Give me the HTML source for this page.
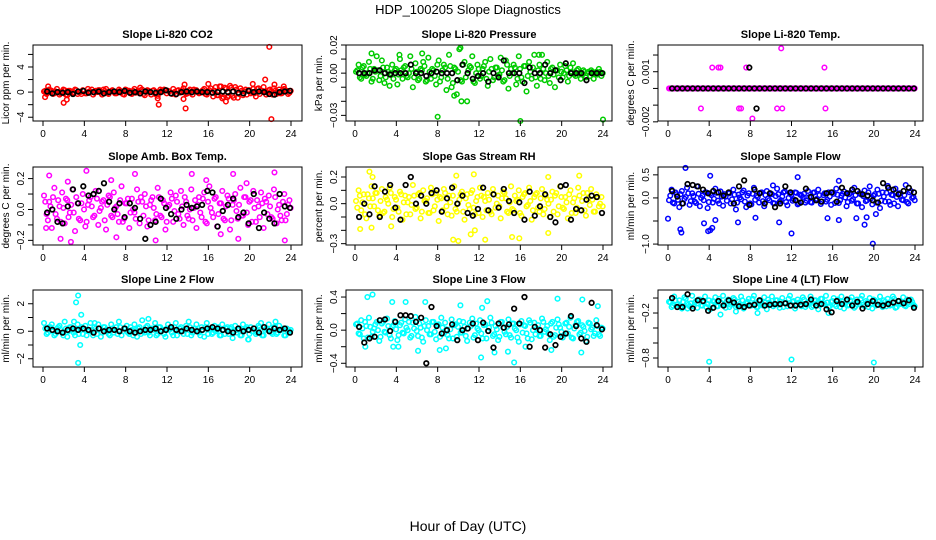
<!DOCTYPE html>
<html><head><meta charset="utf-8"><title>HDP_100205 Slope Diagnostics</title>
<style>
html,body{margin:0;padding:0;background:#fff;}
svg{display:block;font-family:"Liberation Sans",Arial,sans-serif;}
</style></head>
<body>
<svg id="chart" width="936" height="540" viewBox="0 0 936 540" xmlns="http://www.w3.org/2000/svg">
<rect width="936" height="540" fill="#fff"/>
<text x="468" y="14" text-anchor="middle" font-size="13">HDP_100205  Slope Diagnostics</text>
<text x="468" y="531" text-anchor="middle" font-size="14">Hour of Day (UTC)</text>
</svg>
<script>
const hourTicks=[0,4,8,12,16,20,24];

const co2Vals=[0.1,-0.3,0.4,0.2,-0.2,0.5,-0.4,0.1,0.3,-0.5,0.2,-0.1,0.4,-0.3,0.0,0.3,-0.2,0.5,0.1,-0.4,0.2,0.3,-0.1,0.4,0.5,-0.3,0.2,0.1,-0.2,0.4,0.0,-0.4,0.3,0.2,-0.3,0.5,0.1,-0.2,0.4,-0.5,0.3,0.0,0.2,-0.3,-0.6,0.4,0.1,0.3,0.2,-0.2,0.5,-0.4,0.3,0.1,0.6,-0.3,0.2,-0.1,0.4,0.3,-0.2,0.1,0.5,-0.4,0.3,0.0,0.2,-0.5,0.9,-1.0,0.7,-0.8,1.0,-0.6,0.8,-0.9,0.6,-0.5,0.4,0.3,-0.2,0.5,-0.7,0.6,0.2,0.8,-0.4,0.3,0.1,0.6,-0.3,0.4,-0.2,0.5,0.2,-0.1];
const co2Core=[0.2,-0.1,0.3,-0.3,0.1,0.0,-0.2,0.4,-0.4,0.2,0.1,-0.1,0.3,0.0,-0.3,0.2,-0.2,0.1,0.4,-0.1,0.0,0.3,-0.4,0.2,-0.1,0.1,0.3,-0.2,0.0,0.2,-0.3,0.4,0.1,-0.2,0.2,-0.1,0.0,0.3,-0.3,0.1,0.2,-0.4,0.3,0.0,-0.1,0.2,0.4,-0.2,0.1,-0.3,0.0,0.2,-0.1,0.3,0.1,-0.2,0.4,-0.4,0.2,0.0,-0.1,0.3,-0.3,0.1,0.6,-0.7,0.8,-0.5,0.9,-0.8,0.5,-0.6,0.7,-0.9,0.4,-0.3,0.2,0.1,-0.4,0.3,0.0,-0.2,0.5,-0.3,0.2,0.1,-0.1,0.4,-0.4,0.2,0.0,-0.2,0.3,0.1,-0.3,0.2];
const co2ExtraHours=[0.5,2,2.3,0.2,11.2,11.1,13.7,13.6,13.8,16,17.7,20.3,21.5,21.9,22.1,22.4,23.3,9.4];
const co2ExtraVals=[0.9,-1.7,-1.2,-0.8,-2.0,-1.0,1.2,-1.1,-2.6,1.3,-1.5,1.3,2.0,7.2,-4.3,1.2,0.9,0.7];
const co2Black=[0.1,-0.2,0.0,-0.1,0.0,-0.3,0.1,0.2,-0.1,0.0,0.1,-0.2,0.0,0.1,0.0,0.2,-0.1,0.0,-0.2,0.1,0.0,-0.1,0.0,0.3,-0.2,-0.3,0.0,0.1,0.0,0.1,0.0,0.0,-0.1,0.0,0.1,0.0,0.1,-0.1,-0.2,0.2,0.0,0.1,0.0,-0.3,-0.4,0.0,0.1,0.2];

const pressVals=[0.001,0.006,-0.004,0.005,-0.002,0.008,-0.006,0.003,0.012,-0.005,0.009,-0.007,0.004,-0.009,0.006,0.002,-0.008,0.010,-0.004,0.005,-0.003,0.012,-0.010,0.007,-0.005,0.003,0.008,-0.006,0.011,-0.004,0.002,-0.008,0.009,-0.003,0.006,-0.012,0.013,-0.010,0.004,-0.015,0.017,-0.006,0.008,-0.020,0.005,0.012,-0.007,0.006,-0.004,0.003,0.008,-0.009,0.010,-0.005,0.004,-0.002,0.011,-0.006,0.009,-0.011,0.003,0.006,-0.008,0.012,-0.003,0.005,-0.013,0.008,-0.004,0.013,-0.009,0.006,0.013,-0.005,0.008,-0.007,0.004,-0.010,0.002,0.006,-0.003,0.005,-0.006,0.004,0.007,-0.002,0.003,-0.004,0.002,-0.003,0.001,0.002,-0.004,0.001,0.003,-0.002];
const pressCore=[0.002,-0.003,0.004,-0.001,0.000,0.003,-0.004,0.001,0.002,-0.002,0.004,-0.003,0.001,0.000,-0.004,0.003,-0.001,0.002,0.004,-0.002,0.000,0.003,-0.003,0.001,-0.004,0.002,0.005,-0.005,0.001,0.003,-0.002,0.006,-0.006,0.002,0.004,-0.004,0.005,-0.007,0.003,0.001,-0.005,0.006,-0.003,0.002,0.004,-0.006,0.000,0.003,-0.002,0.005,-0.004,0.001,0.003,-0.003,0.004,-0.001,0.002,-0.005,0.006,-0.002,0.000,0.004,-0.004,0.003,-0.006,0.005,-0.002,0.001,0.004,-0.003,0.002,-0.004,0.003,0.000,-0.002,0.003,-0.001,0.002,-0.003,0.001,0.000,0.002,-0.002,0.001,-0.001,0.002,0.000,-0.001,0.001,0.000,-0.002,0.001,0.000,-0.001,0.001,0.000];
const pressExtraHours=[8,16,24,10.2,6.5,1.6,4.3,17.8,9.6,10.3];
const pressExtraVals=[-0.031,-0.034,-0.033,0.018,0.014,0.014,0.013,0.013,-0.016,-0.020];
const pressBlack=[0,0,0,0.002,0.002,0,-0.001,0,0,0,0.006,0,0,-0.002,0,0.001,0,0,0,-0.005,0.006,0,-0.004,-0.002,0,-0.006,0,-0.003,0.009,0,0,0,-0.007,0.004,0,0,0.006,0,0.002,-0.005,0.007,0,0,0,-0.005,0,0,0];

const tempVals=[0,0,0,0,0,0,0,0,0,0,0,0,0,0,0,0,0,0,0,0,0,0,0,0,0,0,0,0,0,0,0,0,0,0,0,0,0,0,0,0,0,0,0,0,0,0,0,0,0,0,0,0,0,0,0,0,0,0,0,0,0,0,0,0,0,0,0,0,0,0,0,0,0,0,0,0,0,0,0,0,0,0,0,0,0,0,0,0,0,0,0,0,0,0,0,0];
const tempCore=[0,0,0,0,0,0,0,0,0,0,0,0,0,0,0,0,0,0,0,0,0,0,0,0,0,0,0,0,0,0,0,0,0,0,0,0,0,0,0,0,0,0,0,0,0,0,0,0,0,0,0,0,0,0,0,0,0,0,0,0,0,0,0,0,0,0,0,0,0,0,0,0,0,0,0,0,0,0,0,0,0,0,0,0,0,0,0,0,0,0,0,0,0,0,0,0];
const tempExtraHours=[4.3,4.9,5.1,7.6,15.2,11,3.2,6.9,7.1,10.6,11.1,15.3,8.2];
const tempExtraVals=[0.00125,0.00125,0.00125,0.00125,0.00125,0.0024,-0.0012,-0.0012,-0.0012,-0.0012,-0.0012,-0.0012,-0.0018];
const tempBlack=[0,0,0,0,0,0,0,0,0,0,0,0,0,0,0,0,0,0,0,0,0,0,0,0,0,0,0,0,0,0,0,0,0,0,0,0,0,0,0,0,0,0,0,0,0,0,0,0];
const tempBlackExtraHours=[7.9,8.6];
const tempBlackExtraVals=[0.00125,-0.0012];

const ambVals=[0.09,-0.03,0.05,-0.12,0.14,-0.06,0.02,0.11,-0.09,0.06,-0.02,0.13,-0.14,0.04,-0.07,0.10,-0.11,0.03,0.08,-0.05,0.12,-0.10,0.01,0.06,-0.13,0.09,-0.04,0.11,0.02,-0.08,0.15,-0.06,0.04,-0.12,0.07,-0.02,0.13,-0.09,0.05,0.10,-0.11,0.03,0.08,-0.07,0.14,-0.04,0.06,-0.13,0.02,0.11,-0.08,0.09,-0.03,0.12,-0.10,0.05,-0.06,0.13,0.01,-0.12,0.08,-0.05,0.11,-0.09,0.15,-0.02,0.07,-0.11,0.04,0.12,-0.07,0.09,-0.13,0.03,0.10,-0.06,0.14,-0.04,0.08,-0.10,0.06,0.12,-0.08,0.02,0.11,-0.12,0.05,0.09,-0.05,0.13,-0.09,0.03,-0.07,0.10,-0.03,0.06];
const ambCore=[0.05,-0.07,0.02,0.08,-0.03,0.06,-0.08,0.01,0.07,-0.05,0.03,-0.02,0.08,-0.06,0.04,0.00,-0.08,0.06,0.02,-0.04,0.07,-0.01,0.05,-0.07,0.03,0.08,-0.05,0.01,-0.03,0.06,-0.08,0.04,0.07,-0.02,0.00,-0.06,0.05,0.08,-0.04,0.02,-0.07,0.06,0.01,-0.03,0.08,-0.05,0.04,-0.08,0.03,0.07,-0.01,0.05,-0.06,0.02,0.08,-0.04,0.00,-0.07,0.06,0.03,-0.02,0.07,-0.08,0.05,0.01,-0.05,0.08,-0.03,0.04,-0.06,0.02,0.07,-0.07,0.06,-0.01,0.03,-0.04,0.08,-0.02,0.05,-0.08,0.01,0.06,-0.05,0.04,0.07,-0.03,0.02,-0.06,0.08,0.00,-0.04,0.05,-0.07,0.03,0.01];
const ambExtraHours=[0.6,2.4,4.2,6.6,8.9,14.4,15.8,18.4,19.7,22.4,1.7,2.7,7.1,10.9,23.4,0.3,18.9,17.2];
const ambExtraVals=[0.22,0.18,0.25,0.19,0.23,0.23,0.19,0.23,0.17,0.24,-0.19,-0.21,-0.18,-0.20,-0.20,-0.12,-0.19,-0.16];
const ambBlack=[-0.02,0.0,-0.08,-0.09,0.02,0.13,0.04,0.15,0.09,0.10,0.12,0.17,0.05,0.0,0.04,-0.05,0.04,0.01,-0.06,-0.19,-0.10,-0.08,0.07,0.01,-0.03,-0.06,0.0,0.03,0.01,0.02,0.03,0.12,0.11,-0.11,-0.01,0.03,0.07,-0.05,-0.02,-0.09,0.10,-0.12,-0.02,-0.06,-0.09,0.10,0.02,0.01];

const rhVals=[0.02,0.10,-0.05,0.07,-0.11,0.04,0.13,-0.02,0.08,-0.09,0.11,-0.06,0.03,0.12,-0.10,0.05,-0.03,0.09,-0.12,0.06,0.01,-0.08,0.14,-0.04,0.07,-0.11,0.10,0.02,-0.07,0.12,-0.05,0.08,-0.13,0.04,0.11,-0.02,0.06,-0.09,0.13,-0.06,0.03,0.09,-0.12,0.07,-0.04,0.10,-0.08,0.05,0.12,-0.10,0.02,0.08,-0.06,0.11,-0.03,0.06,-0.11,0.09,0.04,-0.07,0.13,-0.05,0.02,0.10,-0.09,0.07,-0.02,0.12,-0.12,0.05,0.08,-0.06,0.11,-0.04,0.03,-0.10,0.09,0.06,-0.08,0.13,-0.03,0.05,-0.11,0.10,0.01,-0.07,0.12,-0.05,0.08,-0.09,0.04,0.11,-0.06,0.07,-0.02,0.05];
const rhCore=[-0.03,0.06,0.01,-0.08,0.07,-0.02,0.04,0.08,-0.05,0.02,-0.07,0.05,0.00,0.08,-0.04,0.03,-0.06,0.07,0.01,-0.08,0.05,-0.01,0.06,-0.03,0.08,-0.06,0.02,0.04,-0.07,0.07,-0.02,0.03,0.05,-0.05,0.08,-0.08,0.01,0.06,-0.04,0.00,0.07,-0.06,0.04,-0.01,0.08,-0.03,0.02,-0.07,0.06,0.05,-0.05,0.03,-0.08,0.07,0.00,-0.02,0.04,0.08,-0.06,0.01,-0.04,0.06,0.03,-0.07,0.05,0.08,-0.01,0.02,-0.05,0.07,-0.03,0.04,-0.08,0.06,0.00,0.03,-0.06,0.08,-0.02,0.05,-0.04,0.01,0.07,-0.07,0.04,-0.03,0.06,0.02,-0.05,0.08,-0.01,0.03,-0.06,0.05,0.00,-0.02];
const rhExtraHours=[1.4,1.7,9.8,11.5,21.7,18.7,0.5,1.6,9.5,10,11.2,12.6,15.2,15.9,18.7,3.5,11.6];
const rhExtraVals=[0.24,0.20,0.21,0.22,0.21,0.20,-0.19,-0.18,-0.27,-0.28,-0.23,-0.27,-0.25,-0.26,-0.22,-0.17,-0.20];
const rhBlack=[-0.10,0.00,-0.08,0.13,-0.10,0.09,0.14,-0.03,-0.12,0.14,0.20,0.00,0.06,0.00,0.08,0.10,-0.06,0.04,0.12,0.00,0.06,-0.07,-0.09,-0.04,0.12,-0.05,0.07,-0.03,0.11,0.02,-0.07,0.01,-0.12,0.09,-0.09,-0.02,0.07,-0.10,-0.14,0.13,0.14,-0.12,-0.04,-0.05,0.03,0.06,0.05,-0.07];

const sampleVals=[-0.05,0.18,-0.12,0.08,-0.20,0.15,-0.02,0.22,-0.15,0.10,-0.08,0.25,-0.18,0.05,0.12,-0.22,0.09,-0.10,0.20,-0.06,0.14,-0.17,0.03,0.11,-0.12,0.18,-0.25,0.07,-0.03,0.16,-0.20,0.10,-0.14,0.22,0.05,-0.10,0.12,-0.18,0.15,-0.05,0.08,-0.12,0.20,-0.08,0.03,0.14,-0.16,0.10,-0.06,0.12,-0.14,0.07,0.02,-0.10,0.15,-0.09,0.11,-0.04,0.18,-0.13,0.06,-0.08,0.12,-0.15,0.09,0.20,-0.11,0.05,0.14,-0.18,0.08,-0.06,0.22,-0.12,0.10,-0.20,0.16,-0.05,0.25,-0.14,0.08,0.18,-0.22,0.12,-0.08,0.26,-0.15,0.06,0.20,-0.18,0.10,-0.05,0.28,-0.12,0.15,0.02];
const sampleCore=[0.05,-0.10,0.12,-0.04,0.08,-0.12,0.02,0.10,-0.07,0.04,-0.11,0.09,0.00,-0.05,0.12,-0.09,0.06,-0.02,0.11,-0.12,0.03,0.08,-0.06,0.10,-0.03,0.07,-0.10,0.01,0.12,-0.08,0.05,-0.12,0.09,-0.04,0.02,0.11,-0.07,0.06,-0.01,0.10,-0.11,0.04,0.08,-0.05,0.12,-0.09,0.00,0.07,-0.03,0.11,-0.12,0.05,0.09,-0.06,0.02,-0.10,0.12,-0.02,0.06,-0.08,0.10,-0.04,0.03,0.12,-0.11,0.07,-0.05,0.09,0.01,-0.09,0.11,-0.03,0.06,-0.12,0.08,0.04,-0.07,0.12,-0.01,0.05,-0.10,0.09,-0.06,0.03,0.11,-0.08,0.07,-0.12,0.02,0.10,-0.04,0.06,-0.09,0.12,0.00,-0.05];
const sampleExtraHours=[1.7,4.1,12.6,16.6,0,1.2,1.3,3.5,3.9,4.1,4.3,4.6,6.8,8.5,10.8,12,15.5,16.6,18.3,19.1,19.3,19.9,20.2,2.8,10.2];
const sampleExtraVals=[0.65,0.48,0.45,0.37,-0.45,-0.68,-0.75,-0.55,-0.72,-0.70,-0.65,-0.48,-0.53,-0.43,-0.53,-0.77,-0.44,-0.48,-0.44,-0.58,-0.42,-0.99,-0.35,0.25,0.27];
const sampleBlack=[0.15,0.03,-0.12,0.30,0.28,0.25,0.18,0.10,0.15,0.12,0.05,0.12,-0.12,0.25,0.38,-0.15,0.18,0.10,-0.12,0.10,-0.20,-0.12,0.25,0.12,-0.05,-0.10,0.20,0.02,-0.05,-0.08,0.10,0.12,-0.08,0.22,0.10,0.18,0.15,0.08,0.05,-0.05,-0.10,0.32,0.22,0.18,0.08,0.15,0.22,0.12];

const line2Vals=[0.6,-0.2,0.3,0.5,-0.3,0.2,0.4,-0.1,0.7,-0.4,0.3,0.1,-0.3,0.5,0.2,-0.2,0.4,0.0,0.6,-0.3,0.2,0.5,-0.4,0.3,0.1,-0.2,0.5,-0.1,0.3,0.7,-0.3,0.2,0.4,-0.2,0.1,0.5,-0.4,0.3,0.8,-0.1,0.4,-0.3,0.2,0.6,-0.2,0.3,0.1,-0.4,0.5,0.2,-0.3,0.6,0.0,0.3,-0.2,0.4,0.7,-0.3,0.2,0.5,-0.1,0.3,-0.4,0.6,0.2,-0.2,0.4,0.1,-0.3,0.5,-0.2,0.3,0.2,-0.5,0.4,0.1,-0.3,0.5,0.2,-0.6,0.3,0.0,-0.2,0.4,0.6,-0.3,0.2,0.5,-0.1,0.3,-0.2,0.4,0.1,-0.3,0.2,0.0];
const line2Core=[0.2,-0.1,0.3,0.0,-0.2,0.3,0.1,-0.3,0.2,0.0,0.3,-0.1,0.1,-0.2,0.3,0.2,-0.3,0.0,0.1,0.3,-0.2,0.2,-0.1,0.3,0.0,-0.3,0.2,0.1,-0.2,0.3,0.0,0.2,-0.1,0.3,-0.3,0.1,0.2,-0.2,0.0,0.3,-0.1,0.2,0.1,-0.3,0.3,0.0,-0.2,0.2,0.1,-0.1,0.3,-0.3,0.2,0.0,0.1,-0.2,0.3,-0.1,0.2,0.0,-0.3,0.1,0.3,-0.2,0.2,-0.1,0.0,0.3,-0.3,0.1,0.2,-0.2,0.3,0.0,-0.1,0.2,-0.3,0.1,0.3,-0.2,0.0,0.2,-0.1,0.3,-0.3,0.1,0.2,0.0,-0.2,0.3,-0.1,0.1,0.2,-0.3,0.0,0.1];
const line2ExtraHours=[3.4,3.2,3.7,3.6,3.4,3.0,5.0,10.2,19.9,22.5];
const line2ExtraVals=[2.6,2.1,1.2,-1.0,-2.3,0.7,0.6,0.9,-0.6,0.7];
const line2Black=[0.2,0.1,0.0,-0.1,0.1,0.2,0.1,0.2,0.1,-0.1,0.2,0.0,0.1,0.1,0.0,0.2,0.0,-0.1,0.0,0.1,0.1,0.2,0.0,0.1,0.3,0.1,0.0,0.2,0.1,0.0,0.1,0.2,0.3,0.2,0.1,0.0,-0.1,0.2,0.0,0.1,0.2,-0.1,0.3,0.0,0.2,0.1,0.2,-0.1];

const line3Vals=[0.07,-0.04,0.12,-0.10,0.05,0.15,-0.08,0.02,0.10,-0.13,0.08,-0.02,0.14,-0.06,0.04,0.11,-0.12,0.06,-0.03,0.13,0.00,-0.09,0.09,0.16,-0.07,0.03,-0.14,0.12,0.05,-0.05,0.10,-0.11,0.07,0.15,-0.04,0.01,-0.10,0.13,0.06,-0.08,0.11,-0.03,0.04,-0.13,0.09,0.14,-0.06,0.02,0.12,-0.10,0.07,-0.01,0.15,-0.07,0.05,-0.12,0.10,0.03,-0.05,0.13,-0.09,0.08,0.00,-0.14,0.11,0.06,-0.04,0.12,-0.11,0.09,0.02,-0.07,0.14,-0.02,0.05,-0.12,0.10,-0.06,0.13,0.03,-0.09,0.08,-0.04,0.15,-0.10,0.06,0.11,-0.03,0.04,-0.13,0.09,0.01,-0.07,0.12,-0.05,0.03];
const line3Core=[0.08,-0.05,0.02,0.10,-0.09,0.04,-0.02,0.07,0.00,-0.08,0.10,-0.03,0.05,-0.10,0.06,0.01,-0.06,0.09,-0.04,0.03,0.10,-0.07,0.02,-0.01,0.08,-0.09,0.05,0.00,-0.05,0.10,-0.02,0.06,-0.08,0.03,0.09,-0.06,0.01,-0.10,0.07,0.04,-0.03,0.10,-0.07,0.02,0.05,-0.09,0.08,0.00,-0.04,0.06,-0.10,0.03,0.09,-0.05,0.01,-0.08,0.10,-0.02,0.04,-0.06,0.08,0.02,-0.09,0.07,-0.03,0.05,-0.10,0.09,0.00,-0.05,0.06,-0.07,0.10,0.01,-0.04,0.08,-0.08,0.03,0.07,-0.02,-0.06,0.09,0.04,-0.09,0.02,0.10,-0.05,0.06,-0.01,-0.08,0.08,0.03,-0.04,0.05,-0.07,0.02];
const line3ExtraHours=[1.2,1.7,3.6,4.9,6.8,10.2,12.3,12.8,19.6,22,23.5,1.0,3.7,4.2,6.1,8.2,8.8,13.5,14.8,15.4,21.9,16.5,19.0,12.2];
const line3ExtraVals=[0.40,0.43,0.34,0.34,0.34,0.30,0.27,0.35,0.38,0.37,0.29,-0.20,-0.20,-0.20,-0.25,-0.24,-0.22,-0.27,-0.26,-0.39,-0.27,-0.20,-0.24,-0.33];
const line3Black=[0.04,-0.15,-0.10,-0.08,0.12,0.13,-0.01,0.10,0.18,0.18,0.17,0.10,0.15,-0.40,0.28,0.05,-0.04,0.00,0.07,-0.12,0.00,0.02,0.08,-0.12,0.09,-0.01,-0.21,0.08,0.03,0.07,0.26,0.08,0.40,-0.20,0.04,0.00,-0.21,-0.05,-0.18,-0.08,-0.04,0.17,0.05,-0.10,-0.14,0.33,0.06,0.01];

const line4Vals=[-0.05,-0.12,0.02,-0.09,-0.03,-0.14,0.01,-0.07,-0.11,0.03,-0.06,-0.13,-0.02,-0.10,0.02,-0.08,-0.15,-0.04,0.01,-0.11,-0.06,0.03,-0.13,-0.02,-0.09,0.00,-0.12,-0.05,0.02,-0.14,-0.07,-0.01,-0.10,0.03,-0.12,-0.04,-0.08,0.01,-0.15,-0.06,0.02,-0.09,-0.03,-0.13,0.00,-0.07,-0.11,0.03,-0.05,-0.14,-0.02,-0.09,0.01,-0.12,-0.06,0.02,-0.10,-0.03,-0.15,-0.01,-0.08,0.03,-0.12,-0.05,0.00,-0.11,-0.07,0.02,-0.14,-0.04,-0.09,0.01,-0.13,-0.02,-0.08,0.03,-0.11,-0.06,0.00,-0.14,-0.03,-0.09,0.02,-0.12,-0.05,-0.01,-0.10,0.02,-0.13,-0.04,-0.08,0.01,-0.11,-0.06,-0.02,-0.09];
const line4Core=[-0.06,-0.10,-0.03,-0.08,-0.12,-0.05,-0.01,-0.09,-0.07,-0.11,-0.04,-0.02,-0.10,-0.06,-0.12,-0.03,-0.08,-0.05,-0.11,-0.01,-0.07,-0.09,-0.04,-0.12,-0.06,-0.02,-0.10,-0.08,-0.03,-0.11,-0.05,-0.09,-0.01,-0.07,-0.12,-0.04,-0.10,-0.06,-0.02,-0.08,-0.11,-0.03,-0.09,-0.05,-0.12,-0.07,-0.01,-0.10,-0.04,-0.08,-0.06,-0.11,-0.02,-0.09,-0.05,-0.12,-0.03,-0.07,-0.10,-0.01,-0.08,-0.06,-0.11,-0.04,-0.09,-0.02,-0.12,-0.05,-0.07,-0.10,-0.03,-0.08,-0.11,-0.06,-0.01,-0.09,-0.04,-0.12,-0.07,-0.02,-0.10,-0.05,-0.08,-0.03,-0.11,-0.06,-0.09,-0.01,-0.12,-0.04,-0.07,-0.10,-0.02,-0.08,-0.05,-0.11];
const line4ExtraHours=[4,12,20,5.1,8.7,15.6,1.9,6.6];
const line4ExtraVals=[-0.85,-0.82,-0.86,-0.22,-0.20,-0.20,-0.14,-0.18];
const line4Black=[0.00,-0.12,-0.12,0.05,-0.14,-0.03,-0.04,-0.17,-0.13,-0.04,-0.10,-0.03,-0.06,-0.11,-0.12,-0.10,-0.09,-0.03,-0.10,-0.09,-0.08,-0.08,-0.07,-0.10,-0.10,-0.09,-0.08,-0.02,-0.10,-0.08,-0.15,-0.19,-0.04,-0.08,-0.02,-0.10,-0.05,-0.14,-0.08,-0.04,-0.09,-0.10,-0.08,-0.06,-0.04,-0.07,-0.03,-0.13];

const panels=[
 {name:'co2',title:'Slope Li-820 CO2',ylab:'Licor ppm per min.',col:0,row:0,color:'#ff0000',top:7.5,bot:-4.6,ticks:[-4,-2,0,2,4,6],labels:[[-4,'-4'],[0,'0'],[4,'4']],vals:co2Vals,core:co2Core,eh:co2ExtraHours,ev:co2ExtraVals,black:co2Black},
 {name:'pressure',title:'Slope Li-820 Pressure',ylab:'kPa per min.',col:1,row:0,color:'#00cc00',top:0.02,bot:-0.034,ticks:[-0.03,-0.02,-0.01,0,0.01,0.02],labels:[[0.02,'0.02'],[0,'0.00'],[-0.03,'-0.03']],vals:pressVals,core:pressCore,eh:pressExtraHours,ev:pressExtraVals,black:pressBlack},
 {name:'li820-temp',title:'Slope Li-820 Temp.',ylab:'degrees C per min.',col:2,row:0,color:'#ff00ff',top:0.0026,bot:-0.00195,ticks:[-0.002,-0.001,0,0.001,0.002],labels:[[0.001,'0.001'],[-0.002,'-0.002']],vals:tempVals,core:tempCore,eh:tempExtraHours,ev:tempExtraVals,black:tempBlack,bh:tempBlackExtraHours,bv:tempBlackExtraVals},
 {name:'amb-box-temp',title:'Slope Amb. Box Temp.',ylab:'degrees C per min.',col:0,row:1,color:'#ff00ff',top:0.275,bot:-0.23,ticks:[-0.2,-0.1,0,0.1,0.2],labels:[[0.2,'0.2'],[0,'0.0'],[-0.2,'-0.2']],vals:ambVals,core:ambCore,eh:ambExtraHours,ev:ambExtraVals,black:ambBlack},
 {name:'gas-stream-rh',title:'Slope Gas Stream RH',ylab:'percent per min.',col:1,row:1,color:'#ffff00',top:0.275,bot:-0.31,ticks:[-0.3,-0.2,-0.1,0,0.1,0.2],labels:[[0.2,'0.2'],[0,'0.0'],[-0.3,'-0.3']],vals:rhVals,core:rhCore,eh:rhExtraHours,ev:rhExtraVals,black:rhBlack},
 {name:'sample-flow',title:'Slope Sample Flow',ylab:'ml/min per min.',col:2,row:1,color:'#0000ff',top:0.67,bot:-1.02,ticks:[-1,-0.5,0,0.5],labels:[[0.5,'0.5'],[0,'0.0'],[-1,'-1.0']],vals:sampleVals,core:sampleCore,eh:sampleExtraHours,ev:sampleExtraVals,black:sampleBlack},
 {name:'line2-flow',title:'Slope Line 2 Flow',ylab:'ml/min per min.',col:0,row:2,color:'#00ffff',top:3.0,bot:-2.6,ticks:[-2,-1,0,1,2],labels:[[2,'2'],[0,'0'],[-2,'-2']],vals:line2Vals,core:line2Core,eh:line2ExtraHours,ev:line2ExtraVals,black:line2Black},
 {name:'line3-flow',title:'Slope Line 3 Flow',ylab:'ml/min per min.',col:1,row:2,color:'#00ffff',top:0.485,bot:-0.445,ticks:[-0.4,-0.2,0,0.2,0.4],labels:[[0.4,'0.4'],[0,'0.0'],[-0.4,'-0.4']],vals:line3Vals,core:line3Core,eh:line3ExtraHours,ev:line3ExtraVals,black:line3Black},
 {name:'line4-flow',title:'Slope Line 4 (LT) Flow',ylab:'ml/min per min.',col:2,row:2,color:'#00ffff',top:0.107,bot:-0.92,ticks:[-0.8,-0.6,-0.4,-0.2,0],labels:[[-0.2,'-0.2'],[-0.8,'-0.8']],vals:line4Vals,core:line4Core,eh:line4ExtraHours,ev:line4ExtraVals,black:line4Black}
];

const colBox=[[33,302,43,291],[346,612,355,603],[658,923,668,915]];
const rowBox=[[45,121],[167,245],[290,367]];
const NS='http://www.w3.org/2000/svg';
const svg=document.getElementById('chart');
const R=2.3;
function mk(tag,attrs,parent){const e=document.createElementNS(NS,tag);for(const k in attrs)e.setAttribute(k,attrs[k]);(parent||svg).appendChild(e);return e;}

panels.forEach(p=>{
  const [bl,br,x0,x24]=colBox[p.col];
  const [bt,bb]=rowBox[p.row];
  const xs=h=>x0+(x24-x0)*h/24;
  const ys=v=>bt+(p.top-v)/(p.top-p.bot)*(bb-bt);
  const g=mk('g',{});
  
  
  const t=mk('text',{x:(bl+br)/2,y:bt-7,'text-anchor':'middle','font-size':'11','font-weight':'bold'},g);
  t.textContent=p.title;
  
  
  const yl=mk('text',{x:bl-24,y:(bt+bb)/2,'text-anchor':'middle','font-size':'10',transform:`rotate(-90 ${bl-24} ${(bt+bb)/2})`},g);
  yl.textContent=p.ylab;
  
  
  const pts=mk('g',{fill:'none','stroke-width':'1.5'},g);
  
  
  const n=p.vals.length;
  p.vals.forEach((v,i)=>{
    const c=mk('circle',{cx:xs(i*24/n+0.1),cy:ys(v),r:R,stroke:p.color},pts);
    
    
  });
  const nc=p.core.length;
  p.core.forEach((v,i)=>{
    const c=mk('circle',{cx:xs(i*24/nc+0.22),cy:ys(v),r:R,stroke:p.color},pts);
    
    
  });
  p.eh.forEach((h,i)=>{
    const c=mk('circle',{cx:xs(h),cy:ys(p.ev[i]),r:R,stroke:p.color},pts);
    
    
  });
  const m=p.black.length;
  p.black.forEach((v,i)=>{
    const c=mk('circle',{cx:xs(i*24/m+0.4),cy:ys(v),r:R,stroke:'#000','stroke-width':'1.7'},pts);
    
    
  });
  if(p.bh){p.bh.forEach((h,i)=>{
    const c=mk('circle',{cx:xs(h),cy:ys(p.bv[i]),r:R,stroke:'#000','stroke-width':'1.7'},pts);
    
    
  });}
  const r=mk('rect',{x:bl,y:bt,width:br-bl,height:bb-bt,fill:'none',stroke:'#000','stroke-width':'1'},g);
  
  
  const xa=mk('g',{},g);
  
  
  hourTicks.forEach(h=>{
    mk('line',{x1:xs(h),x2:xs(h),y1:bb,y2:bb+5,stroke:'#000'},xa);
    const tx=mk('text',{x:xs(h),y:bb+16,'text-anchor':'middle','font-size':'10'},xa);
    tx.textContent=h;
    
    
  });
  const ya=mk('g',{},g);
  
  
  p.ticks.forEach(v=>{mk('line',{x1:bl-5,x2:bl,y1:ys(v),y2:ys(v),stroke:'#000'},ya);});
  p.labels.forEach(([v,s])=>{
    const tx=mk('text',{x:bl-9,y:ys(v),'text-anchor':'middle','font-size':'10',transform:`rotate(-90 ${bl-9} ${ys(v)})`},ya);
    tx.textContent=s.replace('-','\u2212');
    
    
  });
});
</script>
</body></html>
